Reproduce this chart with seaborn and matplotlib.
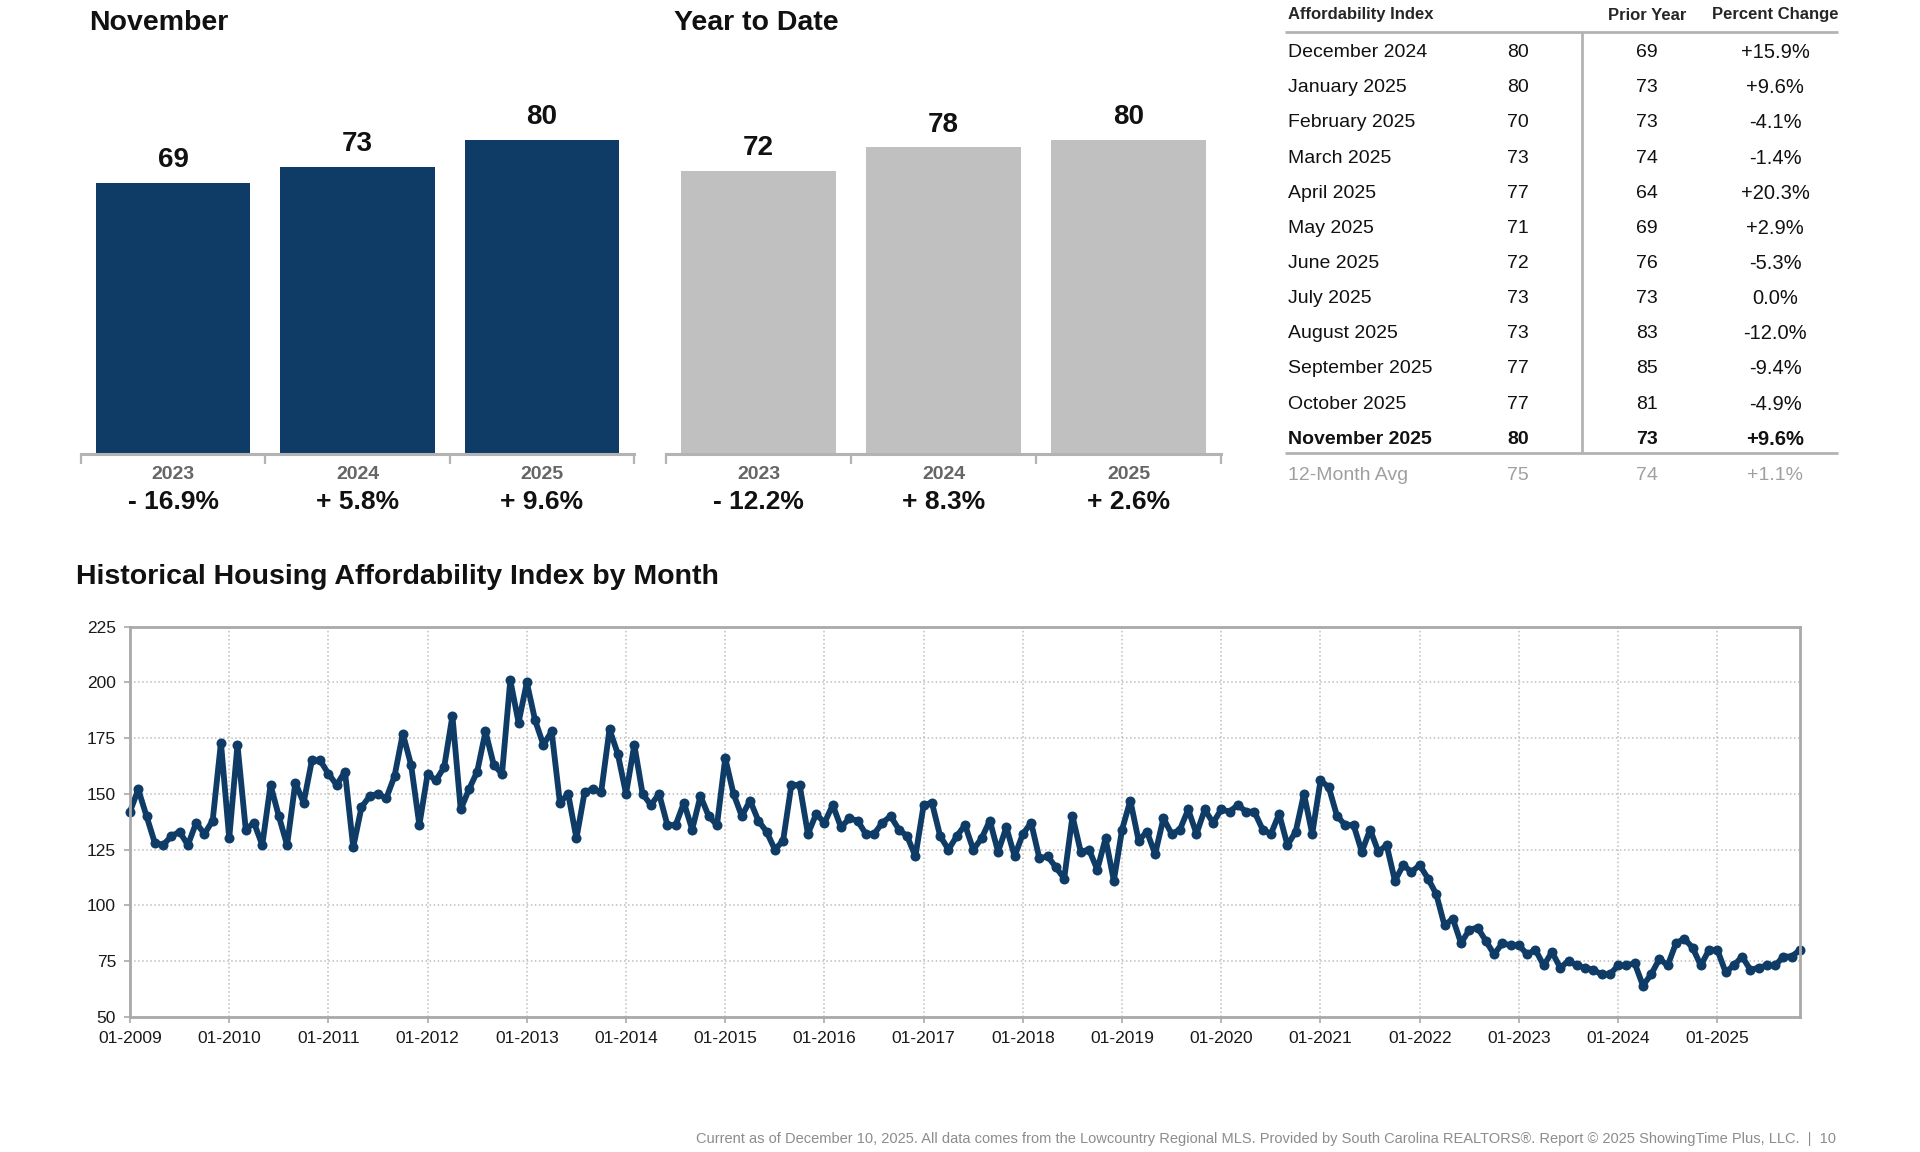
import numpy as np
import pandas as pd
import matplotlib
matplotlib.use("Agg")
import matplotlib.pyplot as plt
import seaborn as sns

# bar panels
bar_years = ["2023", "2024", "2025"]
nov_values = [69, 73, 80]
nov_pct = ["- 16.9%", "+ 5.8%", "+ 9.6%"]
ytd_values = [72, 78, 80]
ytd_pct = ["- 12.2%", "+ 8.3%", "+ 2.6%"]

# table
table_months = ["December 2024", "January 2025", "February 2025", "March 2025",
                "April 2025", "May 2025", "June 2025", "July 2025", "August 2025",
                "September 2025", "October 2025", "November 2025"]
table_current = [80, 80, 70, 73, 77, 71, 72, 73, 73, 77, 77, 80]
table_prior = [69, 73, 73, 74, 64, 69, 76, 73, 83, 85, 81, 73]
table_pct = ["+15.9%", "+9.6%", "-4.1%", "-1.4%", "+20.3%", "+2.9%", "-5.3%",
             "0.0%", "-12.0%", "-9.4%", "-4.9%", "+9.6%"]
avg_row = ["12-Month Avg", "75", "74", "+1.1%"]

# historical monthly index, 01-2009 .. 11-2025
v2009 = [142, 152, 140, 128, 127, 131, 133, 127, 137, 132, 138, 173]
v2010 = [130, 172, 134, 137, 127, 154, 140, 127, 155, 146, 165, 165]
v2011 = [159, 154, 160, 126, 144, 149, 150, 148, 158, 177, 163, 136]
v2012 = [159, 156, 162, 185, 143, 152, 160, 178, 163, 159, 201, 182]
v2013 = [200, 183, 172, 178, 146, 150, 130, 151, 152, 151, 179, 168]
v2014 = [150, 172, 150, 145, 150, 136, 136, 146, 134, 149, 140, 136]
v2015 = [166, 150, 140, 147, 138, 133, 125, 129, 154, 154, 132, 141]
v2016 = [137, 145, 135, 139, 138, 132, 132, 137, 140, 134, 131, 122]
v2017 = [145, 146, 131, 125, 131, 136, 125, 130, 138, 124, 135, 122]
v2018 = [132, 137, 121, 122, 117, 112, 140, 124, 125, 116, 130, 111]
v2019 = [134, 147, 129, 133, 123, 139, 132, 134, 143, 132, 143, 137]
v2020 = [143, 142, 145, 142, 142, 134, 132, 141, 127, 133, 150, 132]
v2021 = [156, 153, 140, 136, 136, 124, 134, 124, 127, 111, 118, 115]
v2022 = [118, 112, 105, 91, 94, 83, 89, 90, 84, 78, 83, 82]
v2023 = [82, 78, 80, 73, 79, 72, 75, 73, 72, 71, 69, 69]
v2024 = [73, 73, 74, 64, 69, 76, 73, 83, 85, 81, 73, 80]
v2025 = [80, 70, 73, 77, 71, 72, 73, 73, 77, 77, 80]
hai_values = (v2009 + v2010 + v2011 + v2012 + v2013 + v2014 + v2015 + v2016 + v2017
              + v2018 + v2019 + v2020 + v2021 + v2022 + v2023 + v2024 + v2025)
tick_years = list(range(2009, 2026))

footer = ("Current as of December 10, 2025. All data comes from the Lowcountry Regional MLS. "
          "Provided by South Carolina REALTORS\u00ae. Report \u00a9 2025 ShowingTime Plus, LLC.  |  10")

NAVY = "#0e3c67"
GREY_BAR = "#c0c0c0"
AXIS_GREY = "#b3b3b3"

sns.set_theme(style="white")
plt.rcParams['font.family'] = ['Liberation Sans', 'DejaVu Sans']
NARROW = ['Liberation Sans Narrow', 'Liberation Sans', 'DejaVu Sans']

W, H = 1920, 1152
fig = plt.figure(figsize=(19.2, 11.52), dpi=100)


def px_axes(x0, y0, x1, y1):
    return fig.add_axes([x0 / W, 1 - y1 / H, (x1 - x0) / W, (y1 - y0) / H])


def bar_panel(ax, values, pcts, color):
    df = pd.DataFrame({"year": bar_years, "value": values})
    sns.barplot(data=df, x="year", y="value", color=color, width=0.837,
                saturation=1, linewidth=0, ax=ax)
    ax.set_xlim(-0.5, 2.5)
    ax.set_ylim(0, 100)
    for c in ax.containers:
        ax.bar_label(c, fontsize=20, fontweight="bold", padding=7, color="#111111")
    ax.set_xlabel("")
    ax.set_ylabel("")
    ax.set_yticks([])
    sns.despine(ax=ax, left=True)
    ax.spines["bottom"].set_color(AXIS_GREY)
    ax.spines["bottom"].set_linewidth(2.2)
    ax.set_xticks([-0.5, 0.5, 1.5, 2.5])
    ax.set_xticklabels([])
    ax.tick_params(axis="x", direction="out", length=7, width=1.6, color=AXIS_GREY, bottom=True)
    tr = ax.get_xaxis_transform()
    for i, (yr, p) in enumerate(zip(bar_years, pcts)):
        ax.text(i, -0.052, yr, transform=tr, ha="center", va="center",
                fontsize=14, fontweight="bold", color="#666666")
        ax.text(i, -0.121, p, transform=tr, ha="center", va="center",
                fontsize=19, fontweight="bold", color="#111111")


# November / Year to Date
ax1 = px_axes(81, 61, 634, 454)
bar_panel(ax1, nov_values, nov_pct, NAVY)
ax2 = px_axes(666, 61, 1221, 454)
bar_panel(ax2, ytd_values, ytd_pct, GREY_BAR)

fig.text(89 / W, 1 - 23 / H, "November", fontsize=20.5, fontweight="bold",
         family=NARROW, va="center", ha="left", color="#111111")
fig.text(674 / W, 1 - 23 / H, "Year to Date", fontsize=20.5, fontweight="bold",
         family=NARROW, va="center", ha="left", color="#111111")

# table
axt = px_axes(1280, 0, 1845, 500)
axt.set_xlim(1280, 1845)
axt.set_ylim(500, 0)
axt.axis("off")
col_label, col_cur, col_prior, col_pct = 1288, 1518, 1647, 1775
axt.text(col_label, 15, "Affordability Index", fontsize=12, fontweight="bold", va="center", ha="left")
axt.text(col_prior, 15, "Prior Year", fontsize=12, fontweight="bold", va="center", ha="center")
axt.text(col_pct, 15, "Percent Change", fontsize=12, fontweight="bold", va="center", ha="center")
axt.plot([1285, 1838], [32, 32], color=AXIS_GREY, lw=2, solid_capstyle="butt")
row_step = 35.15
for i, (m, c, p, pc) in enumerate(zip(table_months, table_current, table_prior, table_pct)):
    y = 52.6 + i * row_step
    w = "bold" if i == len(table_months) - 1 else "normal"
    axt.text(col_label, y, m, fontsize=14, fontweight=w, va="center", ha="left", color="#111111")
    axt.text(col_cur, y, str(c), fontsize=14, fontweight=w, va="center", ha="center", color="#111111")
    axt.text(col_prior, y, str(p), fontsize=14, fontweight=w, va="center", ha="center", color="#111111")
    axt.text(col_pct, y, pc, fontsize=14.5, fontweight=w, va="center", ha="center", color="#111111")
axt.plot([1285, 1838], [453, 453], color=AXIS_GREY, lw=2, solid_capstyle="butt")
axt.plot([1582, 1582], [32, 453], color=AXIS_GREY, lw=2, solid_capstyle="butt")
for x, s, ha in zip([col_label, col_cur, col_prior, col_pct], avg_row,
                    ["left", "center", "center", "center"]):
    axt.text(x, 475, s, fontsize=14, va="center", ha=ha, color="#a0a0a0")

# historical line chart
fig.text(76 / W, 1 - 576.5 / H, "Historical Housing Affordability Index by Month", fontsize=20.5,
         fontweight="bold", family=NARROW, va="center", ha="left", color="#111111")

ax3 = px_axes(130, 626.7, 1800, 1016.7)
month_idx = np.arange(len(hai_values))
sns.lineplot(x=month_idx, y=hai_values, ax=ax3, color=NAVY, linewidth=4.2,
             marker="o", markersize=7.2, markeredgewidth=0)
for ln in ax3.lines:
    ln.set_clip_on(False)
ax3.set_xlim(0, len(hai_values) - 1)
ax3.set_ylim(50, 225)
ax3.set_yticks(np.arange(50, 226, 25))
ax3.set_xticks(np.arange(0, len(hai_values), 12))
ax3.set_xticklabels([f"01-{y}" for y in tick_years])
ax3.grid(True, linestyle=":", color="#bdbdbd", linewidth=1.1)
for s in ax3.spines.values():
    s.set_color("#a9a9a9")
    s.set_linewidth(2)
ax3.tick_params(axis="both", direction="out", length=4, width=1.2, color="#a9a9a9",
                labelsize=12.5, labelcolor="#1a1a1a", left=True, bottom=True)
ax3.tick_params(axis="y", pad=6)
ax3.tick_params(axis="x", pad=6.5)
ax3.set_xlabel("")
ax3.set_ylabel("")

fig.text(1836 / W, 1 - 1139 / H, footer, fontsize=10.5, color="#8c8c8c", ha="right", va="center")

fig.savefig("out.png", dpi=100)
